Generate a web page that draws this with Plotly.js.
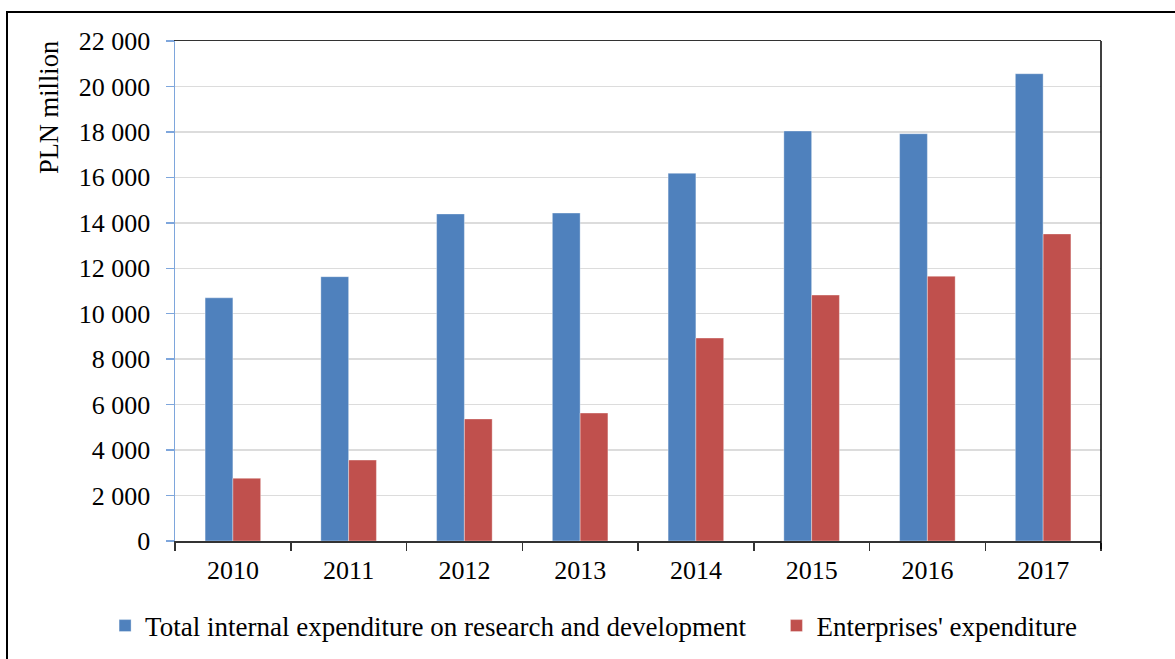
<!DOCTYPE html>
<html><head><meta charset="utf-8">
<script src="https://cdn.plot.ly/plotly-3.0.1.min.js"></script>
<style>
html,body{margin:0;padding:0;background:#fff;overflow:hidden;}
#chart{position:absolute;left:0;top:0;width:1175px;height:659px;}
#frame{position:absolute;left:6px;top:11px;width:1200px;height:700px;border-left:2px solid #000;border-top:2px solid #000;pointer-events:none;}
</style></head><body>
<div id="chart"></div>
<div id="frame"></div>
<script>
const years = ['2010', '2011', '2012', '2013', '2014', '2015', '2016', '2017'];
const totalExpenditure = [10700, 11630, 14390, 14430, 16180, 18040, 17920, 20560];
const enterprisesExpenditure = [2760, 3560, 5370, 5630, 8930, 10820, 11650, 13510];
const seriesNames = ['Total internal expenditure on research and development', "Enterprises' expenditure"];
const yTickValues = [0, 2000, 4000, 6000, 8000, 10000, 12000, 14000, 16000, 18000, 20000, 22000];
const yTickLabels = ['0', '2 000', '4 000', '6 000', '8 000', '10 000', '12 000', '14 000', '16 000', '18 000', '20 000', '22 000'];
const yTitle = 'PLN million';

const FONT = 'Liberation Serif, Times New Roman, serif';

const traces = [
  {type: 'bar', name: seriesNames[0], x: years, y: totalExpenditure, legend: 'legend',
   marker: {color: '#4f81bd', line: {color: 'rgba(255,255,255,0.35)', width: 1}}},
  {type: 'bar', name: seriesNames[1], x: years, y: enterprisesExpenditure, legend: 'legend2',
   marker: {color: '#c0504d', line: {color: 'rgba(255,255,255,0.35)', width: 1}}}
];

const legendCommon = {orientation: 'h', xanchor: 'left', yref: 'container', y: 0.05, yanchor: 'middle',
  font: {family: FONT, size: 27, color: '#000'}, bgcolor: 'rgba(0,0,0,0)'};

const layout = {
  width: 1175, height: 659,
  margin: {l: 175, r: 74, t: 41, b: 118},
  paper_bgcolor: 'rgba(0,0,0,0)', plot_bgcolor: '#fff',
  font: {family: FONT, size: 26, color: '#000'},
  barmode: 'group', bargap: 0.52, bargroupgap: 0,
  showlegend: true,
  xaxis: {type: 'category', range: [-0.5, 7.5], tickson: 'boundaries', ticks: 'outside', ticklen: 8,
          tickcolor: '#333', tickwidth: 1.5, showline: true, linecolor: '#333', linewidth: 1.5, mirror: true,
          showgrid: false, ticklabelstandoff: 5, automargin: false,
          tickfont: {family: FONT, size: 26, color: '#000'}, fixedrange: true},
  yaxis: {range: [0, 22000], tickvals: yTickValues, ticktext: yTickLabels, ticks: 'outside', ticklen: 8,
          tickcolor: '#7ea6dc', tickwidth: 1.5, showline: true, linecolor: '#7ea6dc', linewidth: 1.5,
          gridcolor: '#dcdcdc', gridwidth: 1.5, zeroline: false, ticklabelstandoff: 10, automargin: false,
          tickfont: {family: FONT, size: 26, color: '#000'}, fixedrange: true},
  legend: Object.assign({x: -0.0755}, legendCommon),
  legend2: Object.assign({x: 0.6495}, legendCommon),
  shapes: [
    {type: 'line', xref: 'paper', yref: 'paper', x0: 1, x1: 1, y0: -0.016, y1: 1,
     line: {color: '#000', width: 1.5}}
  ],
  annotations: [
    {text: yTitle, textangle: -90, xref: 'paper', yref: 'paper', x: -0.136, y: 0.866,
     xanchor: 'center', yanchor: 'middle', showarrow: false,
     font: {family: FONT, size: 26.5, color: '#000'}}
  ]
};

Plotly.newPlot('chart', traces, layout, {displayModeBar: false, staticPlot: true});
</script>
</body></html>
